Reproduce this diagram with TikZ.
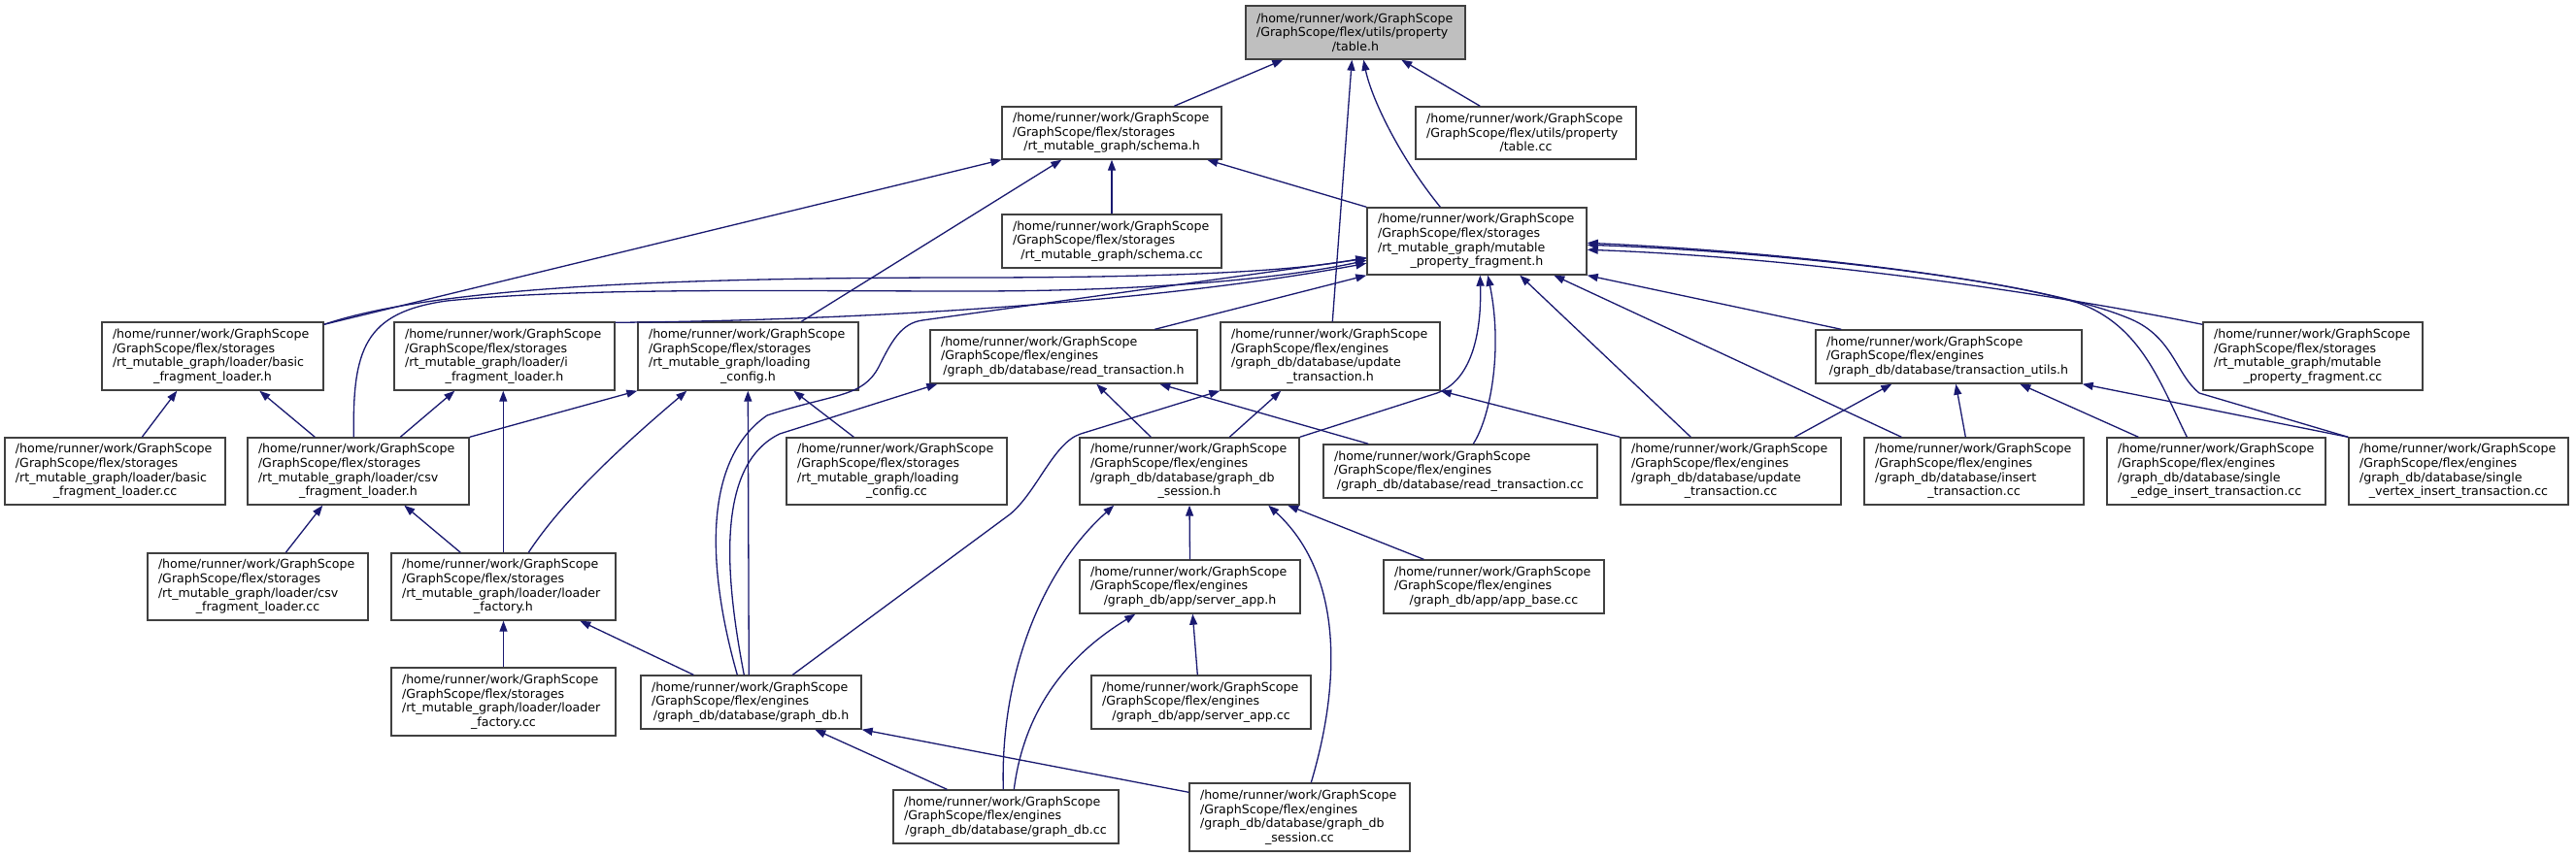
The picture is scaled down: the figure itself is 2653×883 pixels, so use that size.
\documentclass[tikz,border=0pt]{standalone}
\usepackage{fontspec}
\setmainfont{DejaVu Sans}
\usetikzlibrary{arrows.meta}
\definecolor{edgec}{RGB}{25,25,112}
\definecolor{boxc}{RGB}{64,64,64}
\definecolor{graybox}{RGB}{191,191,191}
\newcommand\Lf[1]{\makebox[\linewidth][l]{#1}}
\newcommand\Hd{\Lf{/home/runner/work/GraphScope}\\}
\begin{document}
\begin{tikzpicture}[x=1pt,y=-1pt,
  box/.style={draw=boxc, line width=1.4pt, fill=white, inner sep=0pt, align=center,
    font=\fontsize{12.6}{14.6}\selectfont},
  edge/.style={draw=edgec, line width=1.3pt, -{Triangle[length=11pt,width=8pt]}}]
\fill[white] (0,0) rectangle (2653,883);
\useasboundingbox (0,0) rectangle (2653,883);
% row 0
\node[box, fill=graybox, minimum width=226pt, minimum height=55pt, text width=204pt] (T) at (1396,33.5) {\Hd\Lf{/GraphScope/flex/utils/property}\\/table.h};
% row 1
\node[box, minimum width=226pt, minimum height=54pt, text width=204pt] (S) at (1145,137) {\Hd\Lf{/GraphScope/flex/storages}\\/rt\_mutable\_graph/schema.h};
\node[box, minimum width=227pt, minimum height=54pt, text width=205pt] (TCC) at (1571.5,137) {\Hd\Lf{/GraphScope/flex/utils/property}\\/table.cc};
% row 2
\node[box, minimum width=226pt, minimum height=55pt, text width=204pt] (SCC) at (1145,248.5) {\Hd\Lf{/GraphScope/flex/storages}\\/rt\_mutable\_graph/schema.cc};
\node[box, minimum width=226pt, minimum height=69pt, text width=204pt] (M) at (1521,248.5) {\Hd\Lf{/GraphScope/flex/storages}\\\Lf{/rt\_mutable\_graph/mutable}\\\_property\_fragment.h};
% row 3
\node[box, minimum width=228pt, minimum height=70pt, text width=206pt] (BFL) at (219,367) {\Hd\Lf{/GraphScope/flex/storages}\\\Lf{/rt\_mutable\_graph/loader/basic}\\\_fragment\_loader.h};
\node[box, minimum width=227pt, minimum height=70pt, text width=205pt] (IFL) at (519.5,367) {\Hd\Lf{/GraphScope/flex/storages}\\\Lf{/rt\_mutable\_graph/loader/i}\\\_fragment\_loader.h};
\node[box, minimum width=227pt, minimum height=70pt, text width=205pt] (LC) at (770.5,367) {\Hd\Lf{/GraphScope/flex/storages}\\\Lf{/rt\_mutable\_graph/loading}\\\_config.h};
\node[box, minimum width=275pt, minimum height=55pt, text width=253pt] (RT) at (1095.5,367.5) {\Hd\Lf{/GraphScope/flex/engines}\\/graph\_db/database/read\_transaction.h};
\node[box, minimum width=226pt, minimum height=70pt, text width=204pt] (UT) at (1370,367) {\Hd\Lf{/GraphScope/flex/engines}\\\Lf{/graph\_db/database/update}\\\_transaction.h};
\node[box, minimum width=274pt, minimum height=55pt, text width=252pt] (TU) at (2007,367.5) {\Hd\Lf{/GraphScope/flex/engines}\\/graph\_db/database/transaction\_utils.h};
\node[box, minimum width=226pt, minimum height=70pt, text width=204pt] (MCC) at (2382,367) {\Hd\Lf{/GraphScope/flex/storages}\\\Lf{/rt\_mutable\_graph/mutable}\\\_property\_fragment.cc};
% row 4
\node[box, minimum width=227pt, minimum height=69pt, text width=205pt] (BFLCC) at (118.5,485.5) {\Hd\Lf{/GraphScope/flex/storages}\\\Lf{/rt\_mutable\_graph/loader/basic}\\\_fragment\_loader.cc};
\node[box, minimum width=228pt, minimum height=69pt, text width=206pt] (CSV) at (369,485.5) {\Hd\Lf{/GraphScope/flex/storages}\\\Lf{/rt\_mutable\_graph/loader/csv}\\\_fragment\_loader.h};
\node[box, minimum width=227pt, minimum height=69pt, text width=205pt] (LCC) at (923.5,485.5) {\Hd\Lf{/GraphScope/flex/storages}\\\Lf{/rt\_mutable\_graph/loading}\\\_config.cc};
\node[box, minimum width=226pt, minimum height=69pt, text width=204pt] (GDS) at (1225,485.5) {\Hd\Lf{/GraphScope/flex/engines}\\\Lf{/graph\_db/database/graph\_db}\\\_session.h};
\node[box, minimum width=282pt, minimum height=55pt, text width=260pt] (RTCC) at (1504,485.5) {\Hd\Lf{/GraphScope/flex/engines}\\/graph\_db/database/read\_transaction.cc};
\node[box, minimum width=227pt, minimum height=69pt, text width=205pt] (UTCC) at (1782.5,485.5) {\Hd\Lf{/GraphScope/flex/engines}\\\Lf{/graph\_db/database/update}\\\_transaction.cc};
\node[box, minimum width=226pt, minimum height=69pt, text width=204pt] (ITCC) at (2033,485.5) {\Hd\Lf{/GraphScope/flex/engines}\\\Lf{/graph\_db/database/insert}\\\_transaction.cc};
\node[box, minimum width=225pt, minimum height=69pt, text width=203pt] (SEI) at (2282.5,485.5) {\Hd\Lf{/GraphScope/flex/engines}\\\Lf{/graph\_db/database/single}\\\_edge\_insert\_transaction.cc};
\node[box, minimum width=226pt, minimum height=69pt, text width=204pt] (SVI) at (2532,485.5) {\Hd\Lf{/GraphScope/flex/engines}\\\Lf{/graph\_db/database/single}\\\_vertex\_insert\_transaction.cc};
% row 5
\node[box, minimum width=227pt, minimum height=69pt, text width=205pt] (CSVCC) at (265.5,604.5) {\Hd\Lf{/GraphScope/flex/storages}\\\Lf{/rt\_mutable\_graph/loader/csv}\\\_fragment\_loader.cc};
\node[box, minimum width=231pt, minimum height=69pt, text width=209pt] (LF) at (518.5,604.5) {\Hd\Lf{/GraphScope/flex/storages}\\\Lf{/rt\_mutable\_graph/loader/loader}\\\_factory.h};
\node[box, minimum width=227pt, minimum height=55pt, text width=205pt] (SA) at (1225.5,604.5) {\Hd\Lf{/GraphScope/flex/engines}\\/graph\_db/app/server\_app.h};
\node[box, minimum width=227pt, minimum height=55pt, text width=205pt] (AB) at (1538.5,604.5) {\Hd\Lf{/GraphScope/flex/engines}\\/graph\_db/app/app\_base.cc};
% row 6
\node[box, minimum width=231pt, minimum height=70pt, text width=209pt] (LFCC) at (518.5,723) {\Hd\Lf{/GraphScope/flex/storages}\\\Lf{/rt\_mutable\_graph/loader/loader}\\\_factory.cc};
\node[box, minimum width=227pt, minimum height=55pt, text width=205pt] (GDB) at (773.5,723.5) {\Hd\Lf{/GraphScope/flex/engines}\\/graph\_db/database/graph\_db.h};
\node[box, minimum width=226pt, minimum height=55pt, text width=204pt] (SACC) at (1237,723.5) {\Hd\Lf{/GraphScope/flex/engines}\\/graph\_db/app/server\_app.cc};
% row 7
\node[box, minimum width=232pt, minimum height=55pt, text width=210pt] (GDBCC) at (1036,841.5) {\Hd\Lf{/GraphScope/flex/engines}\\/graph\_db/database/graph\_db.cc};
\node[box, minimum width=227pt, minimum height=70pt, text width=205pt] (GDSCC) at (1338.5,842) {\Hd\Lf{/GraphScope/flex/engines}\\\Lf{/graph\_db/database/graph\_db}\\\_session.cc};

% edges into table.h
\draw[edge] ([xshift=178pt]S.north west) -- ([xshift=39pt]T.south west);
\draw[edge] ([xshift=67pt]TCC.north west) -- ([xshift=161pt]T.south west);
\draw[edge] ([xshift=76pt]M.north west) .. controls (1440,160) and (1412,100) .. ([xshift=122pt]T.south west);
\draw[edge] ([xshift=116pt]UT.north west) -- ([xshift=110pt]T.south west);
% edges into schema.h
\draw[edge] (SCC.north) -- (S.south);
\draw[edge] ([yshift=-3pt]BFL.north east) -- (S.south west);
\draw[edge] ([xshift=169pt]LC.north west) -- ([xshift=62pt]S.south west);
\draw[edge] (M.north west) -- ([xshift=212pt]S.south west);
% edges into mutable_property_fragment.h
\draw[edge] ([yshift=-3pt]BFL.north east) .. controls (450,295) and (700,286) .. (1000,286) .. controls (1200,286) and (1330,280) .. ([yshift=-52pt]M.north west);
\draw[edge] ([xshift=110pt]CSV.north west) .. controls (363,360) and (375,322) .. (460,310) .. controls (600,296) and (800,300) .. (1000,300) .. controls (1200,300) and (1330,285) .. ([yshift=-55pt]M.north west);
\draw[edge] ([yshift=-1pt]IFL.north east) .. controls (900,330) and (1200,310) .. ([yshift=-58pt]M.north west);
\draw[edge] ([xshift=100pt]GDB.north west) .. controls (735,610) and (715,480) .. (790,428) .. controls (860,405) and (888,410) .. (905,378) .. controls (918,352) and (928,333) .. (950,330) -- ([yshift=-53pt]M.north west);
\draw[edge] ([xshift=232pt]RT.north west) -- (M.south west);
\draw[edge] (GDS.north east) -- (1480,405) .. controls (1515,392) and (1526,345) .. ([xshift=117pt]M.south west);
\draw[edge] ([xshift=155pt]RTCC.north west) .. controls (1535,430) and (1548,360) .. ([xshift=125pt]M.south west);
\draw[edge] ([xshift=73pt]UTCC.north west) -- ([xshift=158pt]M.south west);
\draw[edge] ([xshift=39pt]ITCC.north west) -- ([xshift=193pt]M.south west);
\draw[edge] ([xshift=27pt]TU.north west) -- (M.south east);
\draw[edge] ([yshift=-3pt]MCC.north west) .. controls (2100,300) and (1850,265) .. ([yshift=-44pt]M.north east);
\draw[edge] ([xshift=83pt]SEI.north west) .. controls (2225,395) and (2205,335) .. (2140,312) .. controls (2040,282) and (1800,258) .. ([yshift=-39pt]M.north east);
\draw[edge] (SVI.north west) -- (2265,405) .. controls (2240,385) and (2238,345) .. (2190,327) .. controls (2100,290) and (1850,260) .. ([yshift=-37pt]M.north east);
% edges into transaction_utils.h
\draw[edge] ([xshift=180pt]UTCC.north west) -- ([xshift=79pt]TU.south west);
\draw[edge] ([xshift=105pt]ITCC.north west) -- ([xshift=145pt]TU.south west);
\draw[edge] ([xshift=33pt]SEI.north west) -- ([xshift=211pt]TU.south west);
\draw[edge] (SVI.north west) -- (TU.south east);
% loaders
\draw[edge] ([xshift=142pt]BFLCC.north west) -- ([xshift=78pt]BFL.south west);
\draw[edge] ([xshift=70pt]CSV.north west) -- ([xshift=163pt]BFL.south west);
\draw[edge] ([xshift=158pt]CSV.north west) -- ([xshift=63pt]IFL.south west);
\draw[edge] (CSV.north east) -- (LC.south west);
\draw[edge] ([xshift=116pt]LF.north west) -- ([xshift=113pt]IFL.south west);
\draw[edge] ([xshift=72pt]LF.north west) -- ([xshift=162pt]CSV.south west);
\draw[edge] ([xshift=142pt]LF.north west) .. controls (580,515) and (640,460) .. ([xshift=51pt]LC.south west);
\draw[edge] ([xshift=143pt]CSVCC.north west) -- ([xshift=78pt]CSV.south west);
\draw[edge] (LFCC.north) -- (LF.south);
\draw[edge] ([xshift=55pt]GDB.north west) -- ([xshift=195pt]LF.south west);
\draw[edge] ([xshift=112pt]GDB.north west) -- ([xshift=114pt]LC.south west);
\draw[edge] ([xshift=70pt]LCC.north west) -- ([xshift=161pt]LC.south west);
% graph_db.h to transactions
\draw[edge] ([xshift=107pt]GDB.north west) .. controls (748,600) and (735,480) .. (803,447) -- ([xshift=8pt]RT.south west);
\draw[edge] ([xshift=157pt]GDB.north west) -- (1040,530) .. controls (1068,507) and (1085,456) .. (1113,447) -- (UT.south west);
% graph_db_session.h
\draw[edge] ([xshift=74pt]GDS.north west) -- ([xshift=172pt]RT.south west);
\draw[edge] ([xshift=155pt]GDS.north west) -- ([xshift=63pt]UT.south west);
\draw[edge] ([xshift=47pt]RTCC.north west) -- ([xshift=237pt]RT.south west);
\draw[edge] (UTCC.north west) -- (UT.south east);
% bottom part
\draw[edge] ([xshift=56pt]GDBCC.north west) -- ([xshift=180pt]GDB.south west);
\draw[edge] ([yshift=-10pt]GDSCC.north west) -- (GDB.south east);
\draw[edge] ([xshift=114pt]GDBCC.north west) .. controls (1030,700) and (1070,590) .. ([xshift=36pt]GDS.south west);
\draw[edge] (SA.north) -- (GDS.south);
\draw[edge] ([xshift=126pt]GDSCC.north west) .. controls (1382,700) and (1382,590) .. ([xshift=195pt]GDS.south west);
\draw[edge] ([xshift=42pt]AB.north west) -- ([xshift=215pt]GDS.south west);
\draw[edge] ([xshift=125pt]GDBCC.north west) .. controls (1055,730) and (1100,675) .. ([xshift=58pt]SA.south west);
\draw[edge] ([xshift=110pt]SACC.north west) -- ([xshift=117pt]SA.south west);
\end{tikzpicture}
\end{document}
